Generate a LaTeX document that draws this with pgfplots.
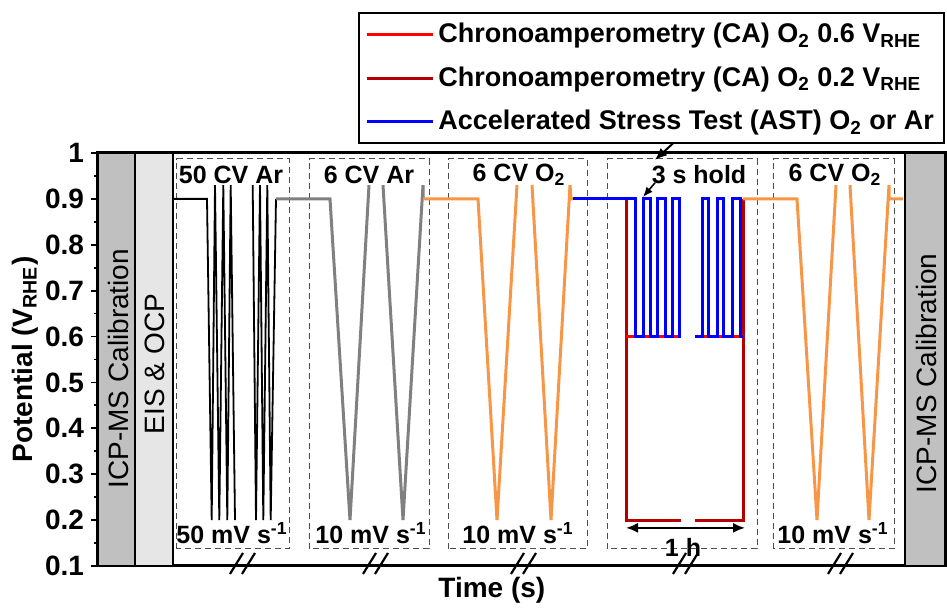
\documentclass[border=0pt]{standalone}
\usepackage{fontspec}
\setmainfont{Liberation Sans}
\usepackage{pgfplots}
\pgfplotsset{compat=1.18}
\usetikzlibrary{arrows.meta}
\definecolor{cvorange}{RGB}{247,150,70}
\definecolor{cadark}{RGB}{180,0,0}
\definecolor{cvgray}{RGB}{128,128,128}
\definecolor{bardark}{RGB}{192,192,192}
\definecolor{barlight}{RGB}{230,230,230}
\begin{document}
\begin{tikzpicture}[font=\bfseries\fontsize{13}{15}\selectfont,
  box/.style={draw=black!70, line width=0.5pt, dash pattern=on 3pt off 2pt},
  lbl/.style={font=\bfseries\fontsize{12.5}{14}\selectfont, inner sep=0pt},
  brk/.style={line width=1.1pt}]
\begin{axis}[
  width=423.5pt, height=206.5pt, scale only axis,
  xmin=98, xmax=945, ymin=0.1, ymax=1,
  xtick=\empty,
  ytick={0.1,0.2,0.3,0.4,0.5,0.6,0.7,0.8,0.9,1},
  minor y tick num=1, tick align=outside, ytick pos=left,
  major tick length=3.5pt, minor tick length=2pt,
  every tick/.style={black, line width=0.9pt},
  axis line style={line width=1.5pt},
  /pgf/number format/assume math mode=true,
  yticklabel style={font=\bfseries\fontsize{14}{14}\selectfont},
  clip=false,
  xlabel={Time (s)},
  xlabel style={at={(axis description cs:0.465,-0.058)}, anchor=center,
                font=\bfseries\fontsize{14}{14}\selectfont},
  ylabel={Potential (V\textsubscript{RHE})},
  ylabel style={at={(axis description cs:-0.086,0.5)}, anchor=center,
                font=\bfseries\fontsize{14}{14}\selectfont},
  legend style={at={(axis description cs:1,1.341)}, anchor=north east,
                draw=black, line width=1pt, legend cell align=left,
                font=\bfseries\fontsize{13.5}{16}\selectfont, row sep=6.5pt,
                inner sep=3pt},
  legend image code/.code={\draw[#1] (0pt,0pt) -- (33pt,0pt);},
]
% frame the picture like the reference
\path (axis cs:0,-0.0024) rectangle (axis cs:947,1.3334);

\addlegendimage{red, line width=1.5pt}
\addlegendentry{Chronoamperometry (CA) O\textsubscript{2} 0.6 V\textsubscript{RHE}}
\addlegendimage{cadark, line width=1.5pt}
\addlegendentry{Chronoamperometry (CA) O\textsubscript{2} 0.2 V\textsubscript{RHE}}
\addlegendimage{blue, line width=1.5pt}
\addlegendentry{Accelerated Stress Test (AST) O\textsubscript{2} or Ar}

% calibration bars
\filldraw[fill=bardark, draw=black, line width=1.2pt] (axis cs:98,0.1) rectangle (axis cs:135,1);
\filldraw[fill=barlight, draw=black, line width=1.2pt] (axis cs:135,0.1) rectangle (axis cs:173,1);
\filldraw[fill=bardark, draw=black, line width=1.2pt] (axis cs:905,0.1) rectangle (axis cs:945,1);
\node[rotate=90, font=\mdseries\fontsize{14}{14}\selectfont] at (axis cs:118,0.53) {ICP-MS Calibration};
\node[rotate=90, font=\mdseries\fontsize{14}{14}\selectfont] at (axis cs:155,0.54) {EIS \& OCP};
\node[rotate=90, font=\mdseries\fontsize{14}{14}\selectfont] at (axis cs:926,0.52) {ICP-MS Calibration};

% dashed boxes
\draw[box] (axis cs:177,0.137) rectangle (axis cs:289,0.987);
\draw[box] (axis cs:309,0.137) rectangle (axis cs:429,0.987);
\draw[box] (axis cs:448,0.137) rectangle (axis cs:587,0.987);
\draw[box] (axis cs:607,0.137) rectangle (axis cs:757,0.987);
\draw[box] (axis cs:773,0.137) rectangle (axis cs:894,0.987);

% 50 CV Ar
\addplot[forget plot, black, line width=0.9pt] coordinates {
  (173,0.9) (207,0.9) (211.7,0.2) (215,0.93) (219.3,0.2) (223.3,0.93)
  (227.3,0.2) (230.7,0.93) (235,0.2)};
\addplot[forget plot, black, line width=0.9pt] coordinates {
  (252.7,0.93) (256,0.2) (260,0.93) (263.3,0.2) (267.3,0.93) (270.7,0.2) (276,0.9)};
% 6 CV Ar
\addplot[forget plot, cvgray, line width=1.5pt] coordinates {
  (276,0.9) (330,0.9) (350,0.2) (369,0.93)};
\addplot[forget plot, cvgray, line width=1.5pt] coordinates {
  (383,0.93) (403,0.2) (423,0.93) (423,0.9)};
% 6 CV O2
\addplot[forget plot, cvorange, line width=1.5pt] coordinates {
  (423,0.9) (478,0.9) (497,0.2) (517,0.93)};
\addplot[forget plot, cvorange, line width=1.5pt] coordinates {
  (532,0.93) (551,0.2) (570,0.93) (571,0.9) (573,0.9)};
% CA holds
\addplot[forget plot, cadark, line width=1.5pt] coordinates {
  (626,0.9) (626,0.2) (681,0.2)};
\addplot[forget plot, cadark, line width=1.5pt] coordinates {
  (695,0.2) (743,0.2) (743,0.9)};
\addplot[forget plot, red, line width=1.5pt] coordinates {(626,0.6) (681,0.6)};
\addplot[forget plot, red, line width=1.5pt] coordinates {(695,0.6) (743,0.6)};
% AST
\addplot[forget plot, blue, line width=1.5pt] coordinates {
  (573,0.9) (635,0.9) (635,0.6) (643,0.6) (643,0.9) (650,0.9) (650,0.6)
  (657,0.6) (657,0.9) (665,0.9) (665,0.6) (672,0.6) (672,0.9) (679,0.9)
  (679,0.6) (681,0.6)};
\addplot[forget plot, blue, line width=1.5pt] coordinates {
  (695,0.6) (702,0.6) (702,0.9) (708,0.9) (708,0.6) (717,0.6) (717,0.9)
  (723,0.9) (723,0.6) (732,0.6) (732,0.9) (740,0.9) (740,0.6) (743,0.6)};
% 6 CV O2 again
\addplot[forget plot, cvorange, line width=1.5pt] coordinates {
  (743,0.9) (797,0.9) (817,0.2) (836,0.93)};
\addplot[forget plot, cvorange, line width=1.5pt] coordinates {
  (850,0.93) (869,0.2) (889,0.93) (889,0.9) (903,0.9)};

% box labels
\node[lbl] at (axis cs:231,0.952) {50 CV Ar};
\node[lbl] at (axis cs:232,0.172) {50 mV s\textsuperscript{-1}};
\node[lbl] at (axis cs:369,0.952) {6 CV Ar};
\node[lbl] at (axis cs:371,0.172) {10 mV s\textsuperscript{-1}};
\node[lbl] at (axis cs:519,0.952) {6 CV O\textsubscript{2}};
\node[lbl] at (axis cs:518,0.172) {10 mV s\textsuperscript{-1}};
\node[lbl] at (axis cs:699,0.952) {3 s hold};
\node[lbl] at (axis cs:683,0.141) {1 h};
\node[lbl] at (axis cs:835,0.952) {6 CV O\textsubscript{2}};
\node[lbl] at (axis cs:833,0.172) {10 mV s\textsuperscript{-1}};

% arrows
\draw[-{Latex[length=6pt,width=5pt]}, line width=1pt] (axis cs:680,1.035) -- (axis cs:655,0.985);
\draw[-{Latex[length=5pt,width=4pt]}, line width=0.8pt] (axis cs:655,0.935) -- (axis cs:643,0.904);
\draw[{Latex[length=6pt,width=5pt]}-{Latex[length=6pt,width=5pt]}, line width=1pt]
  (axis cs:626,0.183) -- (axis cs:745,0.183);

% axis breaks
\draw[brk] (axis cs:230,0.0826) -- (axis cs:243,0.1283);
\draw[brk] (axis cs:242,0.0826) -- (axis cs:255,0.1283);
\draw[brk] (axis cs:363,0.0826) -- (axis cs:376,0.1283);
\draw[brk] (axis cs:375,0.0826) -- (axis cs:388,0.1283);
\draw[brk] (axis cs:511,0.0826) -- (axis cs:524,0.1283);
\draw[brk] (axis cs:523,0.0826) -- (axis cs:536,0.1283);
\draw[brk] (axis cs:673,0.0826) -- (axis cs:686,0.1283);
\draw[brk] (axis cs:685,0.0826) -- (axis cs:698,0.1283);
\draw[brk] (axis cs:828,0.0826) -- (axis cs:841,0.1283);
\draw[brk] (axis cs:840,0.0826) -- (axis cs:853,0.1283);
\end{axis}
\end{tikzpicture}
\end{document}
